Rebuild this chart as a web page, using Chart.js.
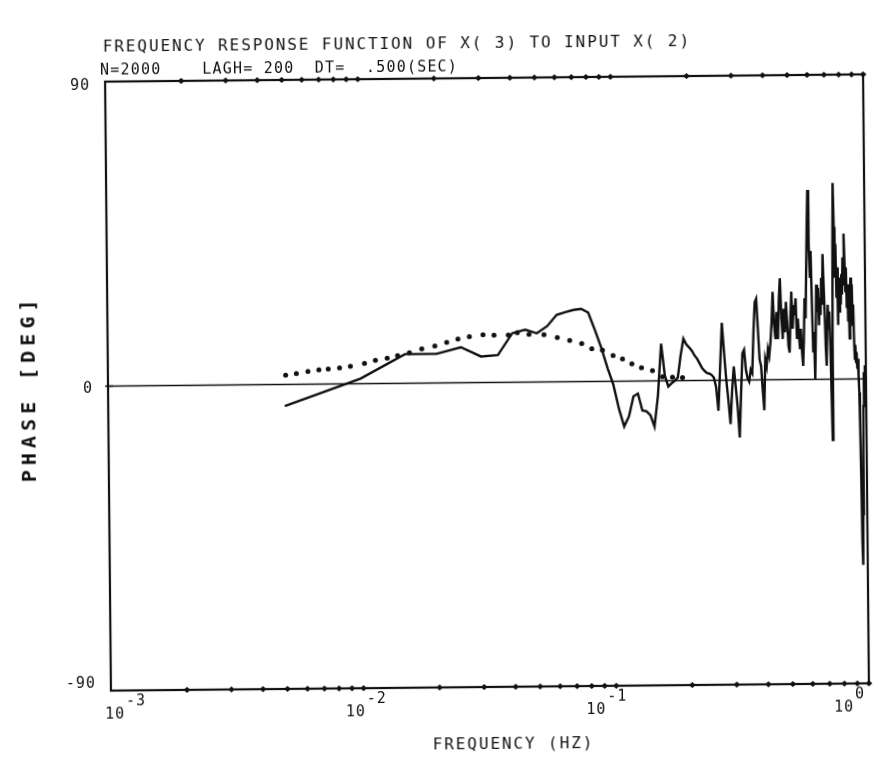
<!DOCTYPE html>
<html>
<head>
<meta charset="utf-8">
<script src="https://cdn.jsdelivr.net/npm/chart.js@4.4.1/dist/chart.umd.min.js"></script>
<style>
  html, body { margin: 0; padding: 0; background: #fff; }
  #wrap { width: 892px; height: 769px; position: relative; overflow: hidden; background: #fff; }
  /* the plotter sheet sits slightly askew */
  #c { display: block; transform-origin: 487px 382px; transform: rotate(-0.55deg); }
</style>
</head>
<body>
<div id="wrap"><canvas id="c" width="892" height="769"></canvas></div>
<script>
// ---- run parameters ----
const N_SAMPLES = 2000;
const LAGH = 200;
const DT = 0.5;

const TITLE = 'FREQUENCY RESPONSE FUNCTION OF X( 3) TO INPUT X( 2)';
const SUBTITLE = 'N=2000    LAGH= 200  DT=  .500(SEC)';
const X_TITLE = 'FREQUENCY (HZ)';
const Y_TITLE = 'PHASE [DEG]';

// ---- axis ticks ----
const xTickExponents = [-3, -2, -1, 0];
const yTickValues = [90, 0, -90];
const yTickLabels = ['90', '0', '-90'];

// ---- estimated phase (deg) at f = k / (2*LAGH*DT), k = 1..200 ----
const phaseDeg = [
  // k = 1..43
  -6.4, 1.5, 8.6, 8.6, 10.5, 7.7, 8.1, 14.5, 15.5, 14.4,
  16.5, 19.8, 20.6, 21.2, 21.5, 20.4, 15.1, 9.8, 3.9, -1.0,
  -8.1, -13.4, -10.4, -4.5, -3.7, -8.7, -9.0, -10.2, -13.5, -4.3,
  11.0, 1.5, -1.7, -0.8, 0.0, 0.9, 7.4, 12.4, 10.7, 9.8,
  8.8, 7.4, 6.4,
  // k = 44..100
  5.0, 3.6, 2.8, 2.2, 2.0, 1.6, 0.8, -2.0, -9.0, 4.0,
  17.0, 8.0, 0.0, -6.0, -13.0, -3.0, 4.0, -2.0, -8.0, -17.0,
  -4.0, 8.0, 9.0, 3.0, 0.5, -0.5, 3.0, 2.0, 14.0, 23.0,
  24.0, 15.0, 6.0, 4.0, -3.0, -9.0, 6.0, 4.0, 9.0, 7.0,
  11.0, 17.0, 26.0, 16.0, 12.0, 20.0, 12.0, 24.0, 30.0, 18.0,
  12.0, 21.0, 14.0, 23.0, 17.0, 10.0, 8.0,
  // k = 101..150
  18.0, 26.0, 15.0, 22.0, 19.0, 24.0, 12.0, 18.0, 13.0, 9.0,
  15.0, 8.0, 4.0, 12.0, 24.0, 18.0, 32.0, 45.0, 56.0, 40.0,
  30.0, 38.0, 22.0, 8.0, 14.0, 0.0, 12.0, 28.0, 20.0, 27.0,
  16.0, 24.0, 19.0, 30.0, 22.0, 37.0, 28.0, 20.0, 10.0, 4.0,
  14.0, 22.0, 15.0, 20.0, 10.0, -4.0, -18.0, 10.0, 40.0, 58.0,
  // k = 151..200
  45.0, 30.0, 40.0, 24.0, 33.0, 16.0, 27.0, 20.0, 30.0, 22.0,
  31.0, 25.0, 36.0, 28.0, 43.0, 35.0, 26.0, 33.0, 21.0, 28.0,
  17.0, 23.0, 12.0, 20.0, 30.0, 24.0, 28.0, 16.0, 22.0, 12.0,
  6.0, 10.0, 5.0, 8.0, 3.0, 6.0, 1.0, -4.0, -15.0, -30.0,
  -48.0, -55.0, -40.0, -22.0, -8.0, 2.0, -6.0, 4.0, -3.0, 0.0
];

// smoothed reference curve, drawn dotted
const smoothFreq = [
  0.00505, 0.00557, 0.00619, 0.00684, 0.00745, 0.00826, 0.00912, 0.01037, 0.01146, 0.01276,
  0.01403, 0.01563, 0.0175, 0.01972, 0.02198, 0.02436, 0.02703, 0.03062, 0.03385, 0.03856,
  0.04184, 0.04656, 0.05337, 0.06024, 0.06745, 0.07521, 0.08241, 0.09079, 0.1, 0.1089,
  0.1186, 0.1294, 0.143, 0.1566, 0.1715, 0.1879
];
const smoothPhase = [
  2.7, 3.2, 3.8, 4.2, 4.4, 4.7, 5.2, 6.0, 6.9, 7.5,
  8.2, 9.0, 10.1, 10.9, 12.0, 12.9, 13.6, 14.1, 14.0, 14.0,
  14.6, 14.1, 14.0, 13.1, 12.2, 11.2, 9.7, 9.2, 7.6, 6.6,
  5.1, 3.9, 3.0, 1.2, 1.0, 0.9
];

// frequency grid of the lag-window estimate
const freqHz = phaseDeg.map((_, i) => (i + 1) / (2 * LAGH * DT));

const INK = '#111';
const FONT = '"DejaVu Sans Mono", "Liberation Mono", monospace';

function spacedText(ctx, text, x, y, spacing) {
  ctx.letterSpacing = spacing + 'px';
  ctx.fillText(text, x, y);
  ctx.letterSpacing = '0px';
}

const plotterFrame = {
  id: 'plotterFrame',
  beforeDatasetsDraw(chart) {
    const { ctx, chartArea: a, scales: { y } } = chart;
    ctx.save();
    ctx.strokeStyle = INK;
    ctx.lineWidth = 1.6;
    const y0 = y.getPixelForValue(0);
    ctx.beginPath();
    ctx.moveTo(a.left, y0);
    ctx.lineTo(a.right, y0);
    ctx.stroke();
    ctx.restore();
  },
  afterDatasetsDraw(chart) {
    const { ctx, chartArea: a, scales: { x, y } } = chart;
    ctx.save();
    ctx.strokeStyle = INK;
    ctx.fillStyle = INK;
    ctx.lineWidth = 2.2;
    ctx.strokeRect(a.left, a.top, a.right - a.left, a.bottom - a.top);

    // log tick marks along top and bottom edges
    const diamond = (px, py) => {
      ctx.beginPath();
      ctx.moveTo(px - 3.5, py);
      ctx.lineTo(px, py - 3);
      ctx.lineTo(px + 3.5, py);
      ctx.lineTo(px, py + 3);
      ctx.closePath();
      ctx.fill();
    };
    for (let e = xTickExponents[0]; e < xTickExponents[xTickExponents.length - 1]; e++) {
      for (let m = 2; m <= 10; m++) {
        const px = x.getPixelForValue(m * Math.pow(10, e));
        diamond(px, a.top);
        diamond(px, a.bottom);
      }
    }
    // zero tick on the left edge
    const y0 = y.getPixelForValue(0);
    ctx.lineWidth = 1.5;
    ctx.beginPath();
    ctx.moveTo(a.left - 3, y0);
    ctx.lineTo(a.left + 5, y0);
    ctx.stroke();

    // y tick labels
    ctx.font = '15px ' + FONT;
    ctx.textAlign = 'right';
    ctx.textBaseline = 'middle';
    const yOff = { '90': 4, '0': 3, '-90': -7 };
    yTickValues.forEach((v, i) => {
      spacedText(ctx, yTickLabels[i], a.left - 15, y.getPixelForValue(v) + yOff[yTickLabels[i]], 1);
    });

    // x tick labels: 10 with superscript exponent
    const xOff = { '-3': 4, '-2': -8, '-1': -20, '0': -25 };
    xTickExponents.forEach(e => {
      const px = x.getPixelForValue(Math.pow(10, e)) + xOff[String(e)];
      ctx.font = '15px ' + FONT;
      ctx.textAlign = 'center';
      ctx.textBaseline = 'middle';
      spacedText(ctx, '10', px, a.bottom + 24, 1);
      ctx.textAlign = 'left';
      spacedText(ctx, String(e), px + 11, a.bottom + 11, 1);
    });

    // titles
    ctx.textAlign = 'left';
    ctx.textBaseline = 'middle';
    ctx.font = '16px ' + FONT;
    spacedText(ctx, TITLE, 106, 44, 1.9);
    ctx.font = '15px ' + FONT;
    spacedText(ctx, SUBTITLE, 103, 67, 1.2);
    ctx.font = '16px ' + FONT;
    ctx.textAlign = 'center';
    spacedText(ctx, X_TITLE, 510, 745, 1.9);

    ctx.save();
    ctx.translate(30, 384);
    ctx.rotate(-Math.PI / 2);
    ctx.font = 'bold 20px ' + FONT;
    ctx.textAlign = 'center';
    ctx.textBaseline = 'middle';
    spacedText(ctx, Y_TITLE, 0, 0, 5);
    ctx.restore();

    ctx.restore();
  }
};

new Chart(document.getElementById('c'), {
  type: 'line',
  data: {
    datasets: [
      {
        label: 'phase',
        data: freqHz.map((f, i) => ({ x: f, y: phaseDeg[i] })),
        borderColor: INK,
        borderWidth: 2.4,
        pointRadius: 0,
        tension: 0,
        fill: false
      },
      {
        label: 'smooth',
        data: smoothFreq.map((f, i) => ({ x: f, y: smoothPhase[i] })),
        showLine: false,
        pointRadius: 2.5,
        pointBorderWidth: 0,
        pointBackgroundColor: INK,
        pointBorderColor: INK
      }
    ]
  },
  options: {
    responsive: false,
    devicePixelRatio: 1,
    animation: false,
    layout: { padding: { left: 108, right: 26, top: 78, bottom: 82 } },
    plugins: { legend: { display: false }, title: { display: false }, tooltip: { enabled: false } },
    scales: {
      x: { type: 'logarithmic', min: 0.001, max: 1, display: false },
      y: { type: 'linear', min: -90, max: 90, display: false }
    }
  },
  plugins: [plotterFrame]
});
</script>
</body>
</html>
